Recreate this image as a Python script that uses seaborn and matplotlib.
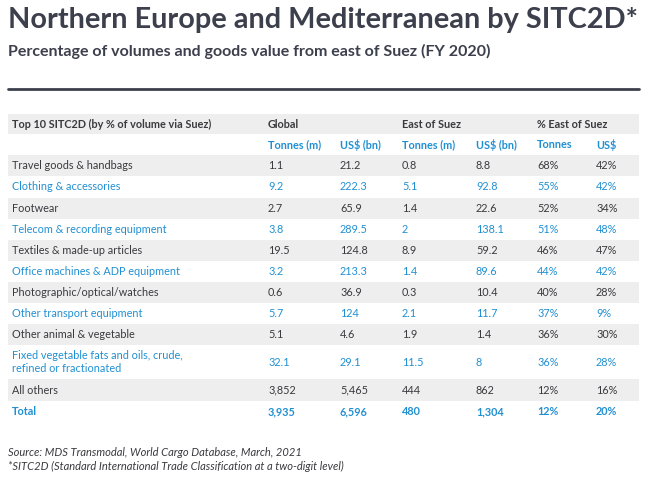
import matplotlib
matplotlib.use("Agg")
import matplotlib.pyplot as plt
import seaborn as sns

categories = [
    "Travel goods & handbags",
    "Clothing & accessories",
    "Footwear",
    "Telecom & recording equipment",
    "Textiles & made-up articles",
    "Office machines & ADP equipment",
    "Photographic/optical/watches",
    "Other transport equipment",
    "Other animal & vegetable",
    "Fixed vegetable fats and oils, crude,\nrefined or fractionated",
    "All others",
    "Total",
]
global_tonnes = ["1.1", "9.2", "2.7", "3.8", "19.5", "3.2", "0.6", "5.7", "5.1", "32.1", "3,852", "3,935"]
global_usd = ["21.2", "222.3", "65.9", "289.5", "124.8", "213.3", "36.9", "124", "4.6", "29.1", "5,465", "6,596"]
east_tonnes = ["0.8", "5.1", "1.4", "2", "8.9", "1.4", "0.3", "2.1", "1.9", "11.5", "444", "480"]
east_usd = ["8.8", "92.8", "22.6", "138.1", "59.2", "89.6", "10.4", "11.7", "1.4", "8", "862", "1,304"]
pct_tonnes = ["68%", "55%", "52%", "51%", "46%", "44%", "40%", "37%", "36%", "36%", "12%", "12%"]
pct_usd = ["42%", "42%", "34%", "48%", "47%", "42%", "28%", "9%", "30%", "28%", "16%", "20%"]

DARK = "#3c3f4c"
TEXT = "#3a3a3f"
BLUE = "#2190d2"
GREY = "#eeeeee"

sns.set_theme(style="white")
plt.rcParams["font.family"] = ["Lato", "DejaVu Sans"]

fig = plt.figure(figsize=(6.47, 4.8), dpi=100)
ax = fig.add_axes([0, 0, 1, 1])
ax.set_xlim(0, 647)
ax.set_ylim(480, 0)
ax.axis("off")

fig.text(8 / 647, 1 - 20 / 480, "Northern Europe and Mediterranean by SITC2D*",
         fontsize=20.8, fontweight="bold", color=DARK, va="center", ha="left")
fig.text(8 / 647, 1 - 51 / 480, "Percentage of volumes and goods value from east of Suez (FY 2020)",
         fontsize=11.5, fontweight="bold", color=DARK, va="center", ha="left")
ax.plot([8, 639], [89, 89], color=DARK, lw=2)

col_x = [268, 340, 402, 476, 537, 596]
FS = 7.8

# header
ax.axhspan(114, 134, xmin=8 / 647, xmax=639 / 647, color=GREY, lw=0)
ax.text(12, 124, "Top 10 SITC2D (by % of volume via Suez)", fontsize=FS, fontweight="bold",
        color=TEXT, va="center")
for x, t in zip([268, 402, 537], ["Global", "East of Suez", "% East of Suez"]):
    ax.text(x, 124, t, fontsize=FS, fontweight="bold", color=TEXT, va="center")
for x, t in zip(col_x, ["Tonnes (m)", "US$ (bn)", "Tonnes (m)", "US$ (bn)", "Tonnes", "US$"]):
    ax.text(x, 145, t, fontsize=FS, fontweight="bold", color=BLUE, va="center")

heights = [21, 22, 21, 21, 21, 21, 21, 21, 21, 34, 22, 21]
y = 155
cols = [global_tonnes, global_usd, east_tonnes, east_usd, pct_tonnes, pct_usd]
for i, cat in enumerate(categories):
    h = heights[i]
    if i % 2 == 0:
        ax.axhspan(y, y + h, xmin=8 / 647, xmax=639 / 647, color=GREY, lw=0)
    color = BLUE if i % 2 == 1 else TEXT
    weight = "bold" if cat == "Total" else "normal"
    yc = y + h / 2
    ax.text(12, yc, cat, fontsize=FS, color=color, fontweight=weight, va="center",
            linespacing=1.25)
    for x, vals in zip(col_x, cols):
        ax.text(x, yc, vals[i], fontsize=FS, color=color, fontweight=weight, va="center")
    y += h

fig.text(8 / 647, 1 - 452 / 480, "Source: MDS Transmodal, World Cargo Database, March, 2021",
         fontsize=8, style="italic", color=TEXT, va="center")
fig.text(8 / 647, 1 - 466 / 480, "*SITC2D (Standard International Trade Classification at a two-digit level)",
         fontsize=8, style="italic", color=TEXT, va="center")

fig.savefig("out.png", dpi=100, facecolor="white")
